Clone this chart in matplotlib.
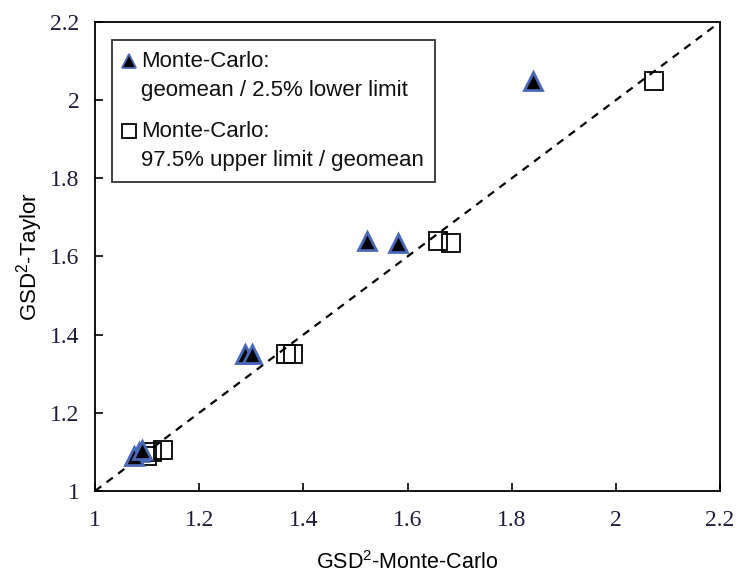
import numpy as np
import matplotlib.pyplot as plt
from matplotlib.lines import Line2D
from matplotlib.legend_handler import HandlerLine2D

plt.rcParams['mathtext.fontset'] = 'custom'
plt.rcParams['mathtext.rm'] = 'Liberation Sans'

# GSD^2 from the Taylor approximation (shared y for both marker sets)
taylor = [2.05, 1.64, 1.635, 1.35, 1.35, 1.10, 1.09, 1.105]
# Monte-Carlo: geomean / 2.5% lower limit
mc_lower = [1.84, 1.523, 1.581, 1.288, 1.302, 1.085, 1.075, 1.09]
# Monte-Carlo: 97.5% upper limit / geomean
mc_upper = [2.073, 1.658, 1.683, 1.367, 1.38, 1.11, 1.10, 1.131]

ticks = [1, 1.2, 1.4, 1.6, 1.8, 2, 2.2]
tick_labels = ['1', '1.2', '1.4', '1.6', '1.8', '2', '2.2']


class FirstLineHandler(HandlerLine2D):
    # put the legend symbol next to the first line of a two-line label
    def create_artists(self, legend, orig_handle, xdescent, ydescent,
                       width, height, fontsize, trans):
        arts = super().create_artists(legend, orig_handle, xdescent, ydescent,
                                      width, height, fontsize, trans)
        for a in arts:
            a.set_ydata(np.asarray(a.get_ydata()) + 0.68 * fontsize)
        return arts


fig = plt.figure(figsize=(7.37, 5.74), dpi=100)
ax = fig.add_axes([95 / 737, 1 - 491 / 574, 625 / 737, 469 / 574])

ax.plot([1, 2.2], [1, 2.2], ls=(0, (3.5, 3)), color='black', lw=1.6, zorder=1)

ax.plot(mc_lower, taylor, ls='none', marker='^', ms=13, mfc='black',
        mec='#4a68b8', mew=2.0, zorder=3)
ax.plot(mc_upper, taylor, ls='none', marker='s', ms=13, mfc='none',
        mec='black', mew=1.3, zorder=2)

ax.set_xlim(1, 2.2)
ax.set_ylim(1, 2.2)
ax.set_xticks(ticks)
ax.set_xticklabels(tick_labels)
ax.set_yticks(ticks)
ax.set_yticklabels(tick_labels)
ax.tick_params(direction='in', length=6, width=1.2, colors='black',
               labelcolor='#1c1c3c', labelsize=17)
ax.tick_params(axis='x', pad=14)
ax.tick_params(axis='y', pad=11)
for lab in ax.get_xticklabels() + ax.get_yticklabels():
    lab.set_family('Liberation Serif')
for sp in ax.spines.values():
    sp.set_linewidth(1.3)

ax.set_xlabel('GSD$^2$-Monte-Carlo', fontsize=15.5, family='Liberation Sans', labelpad=14)
ax.set_ylabel('GSD$^2$-Taylor', fontsize=16, family='Liberation Sans', labelpad=4)

handles = [
    Line2D([], [], ls='none', marker='^', ms=10, mfc='black', mec='#4a68b8', mew=1.3),
    Line2D([], [], ls='none', marker='s', ms=10, mfc='none', mec='black', mew=1.3),
]
labels = ['Monte-Carlo:\ngeomean / 2.5% lower limit',
          'Monte-Carlo:\n97.5% upper limit / geomean']
leg = ax.legend(handles, labels, loc='upper left', bbox_to_anchor=(0.027, 0.962),
                prop={'family': 'Liberation Sans', 'size': 16}, frameon=True,
                fancybox=False, edgecolor='black', handlelength=0.55,
                handletextpad=0.25, borderpad=0.5, labelspacing=0.9,
                borderaxespad=0, handler_map={Line2D: FirstLineHandler()})
leg.get_frame().set_linewidth(1.3)
for t in leg.get_texts():
    t.set_linespacing(1.5)
    t.set_color('#101010')

fig.savefig('out.png', dpi=100)
